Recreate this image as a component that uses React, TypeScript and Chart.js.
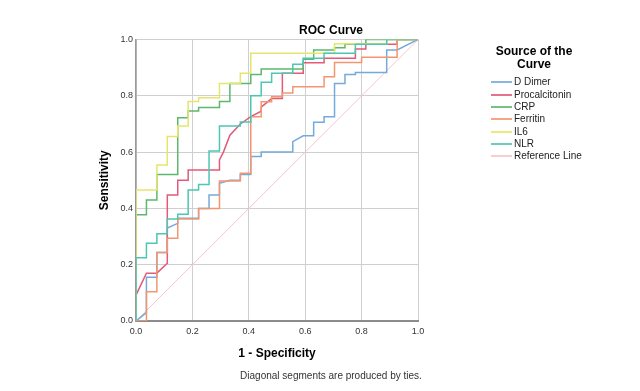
import React, { useEffect, useRef } from "react";
import { Chart, registerables } from "chart.js";

Chart.register(...registerables);

const FONT = "'Liberation Sans', Arial, Helvetica, sans-serif";

const chartTitle = "ROC Curve";
const xAxisTitle = "1 - Specificity";
const yAxisTitle = "Sensitivity";
const legendTitle = ["Source of the", "Curve"];
const footnote = "Diagonal segments are produced by ties.";

const seriesNames = ["D Dimer", "Procalcitonin", "CRP", "Ferritin", "IL6", "NLR"];
const seriesColors = ["#74aadb", "#e25a78", "#5cb86c", "#f39670", "#e5e56c", "#4dc6b2"];
const referenceName = "Reference Line";
const referenceColor = "#f5c6cd";

const tickValues = [0, 0.2, 0.4, 0.6, 0.8, 1.0];

// 1 - specificity (x) and sensitivity (y) for each curve
const dDimerX = [0, 0.037, 0.037, 0.074, 0.074, 0.111, 0.111, 0.148, 0.148, 0.222, 0.222, 0.259, 0.259, 0.296, 0.296, 0.333, 0.37, 0.37, 0.407, 0.407, 0.444, 0.444, 0.556, 0.556, 0.593, 0.63, 0.63, 0.667, 0.667, 0.704, 0.704, 0.741, 0.741, 0.778, 0.778, 0.889, 0.889, 0.926, 1];
const dDimerY = [0, 0.03, 0.155, 0.155, 0.243, 0.243, 0.33, 0.347, 0.365, 0.365, 0.4, 0.4, 0.448, 0.448, 0.489, 0.5, 0.5, 0.52, 0.52, 0.584, 0.584, 0.6, 0.6, 0.637, 0.658, 0.658, 0.706, 0.706, 0.726, 0.726, 0.844, 0.844, 0.876, 0.876, 0.883, 0.883, 0.963, 0.963, 1];

const procalcitoninX = [0, 0, 0.037, 0.074, 0.111, 0.111, 0.148, 0.148, 0.185, 0.185, 0.296, 0.296, 0.31, 0.333, 0.37, 0.407, 0.444, 0.444, 0.481, 0.519, 0.519, 0.593, 0.593, 0.667, 0.667, 0.778, 0.778, 0.815, 0.815, 0.926, 0.926, 1];
const procalcitoninY = [0, 0.092, 0.17, 0.17, 0.205, 0.448, 0.448, 0.5, 0.5, 0.536, 0.536, 0.572, 0.6, 0.66, 0.7, 0.726, 0.745, 0.76, 0.79, 0.79, 0.88, 0.88, 0.917, 0.917, 0.933, 0.933, 0.966, 0.966, 0.983, 0.983, 1, 1];

const crpX = [0, 0, 0.037, 0.037, 0.074, 0.074, 0.148, 0.148, 0.185, 0.185, 0.222, 0.222, 0.296, 0.296, 0.333, 0.333, 0.407, 0.407, 0.444, 0.444, 0.593, 0.593, 0.63, 0.63, 0.704, 0.704, 0.741, 0.741, 0.815, 0.815, 1];
const crpY = [0, 0.377, 0.377, 0.43, 0.43, 0.52, 0.52, 0.722, 0.722, 0.746, 0.746, 0.758, 0.758, 0.78, 0.78, 0.844, 0.844, 0.876, 0.876, 0.895, 0.895, 0.93, 0.93, 0.963, 0.963, 0.971, 0.971, 0.983, 0.983, 1, 1];

const ferritinX = [0, 0.037, 0.037, 0.074, 0.074, 0.111, 0.111, 0.148, 0.148, 0.222, 0.222, 0.296, 0.296, 0.37, 0.37, 0.407, 0.407, 0.444, 0.444, 0.481, 0.481, 0.519, 0.519, 0.556, 0.556, 0.667, 0.667, 0.704, 0.704, 0.8, 0.8, 0.926, 0.926, 1];
const ferritinY = [0, 0, 0.104, 0.104, 0.243, 0.243, 0.294, 0.294, 0.362, 0.362, 0.4, 0.4, 0.497, 0.497, 0.525, 0.525, 0.726, 0.726, 0.779, 0.779, 0.797, 0.797, 0.81, 0.81, 0.832, 0.832, 0.868, 0.868, 0.918, 0.918, 0.937, 0.937, 1, 1];

const il6X = [0, 0, 0.074, 0.074, 0.111, 0.111, 0.148, 0.148, 0.185, 0.185, 0.222, 0.222, 0.296, 0.296, 0.37, 0.37, 0.407, 0.407, 0.704, 0.704, 0.889, 0.889, 1];
const il6Y = [0, 0.465, 0.465, 0.554, 0.554, 0.655, 0.655, 0.693, 0.693, 0.78, 0.78, 0.793, 0.793, 0.844, 0.844, 0.88, 0.88, 0.951, 0.951, 0.985, 0.985, 1, 1];

const nlrX = [0, 0, 0.037, 0.037, 0.074, 0.074, 0.111, 0.111, 0.148, 0.148, 0.185, 0.185, 0.222, 0.222, 0.259, 0.259, 0.296, 0.296, 0.37, 0.37, 0.407, 0.407, 0.444, 0.444, 0.481, 0.481, 0.556, 0.556, 0.593, 0.593, 0.667, 0.667, 0.778, 0.778, 0.889, 0.889, 1];
const nlrY = [0, 0.225, 0.225, 0.276, 0.276, 0.31, 0.31, 0.362, 0.362, 0.379, 0.379, 0.465, 0.465, 0.485, 0.485, 0.604, 0.604, 0.693, 0.693, 0.707, 0.707, 0.8, 0.8, 0.848, 0.848, 0.88, 0.88, 0.912, 0.912, 0.933, 0.933, 0.951, 0.951, 0.983, 0.983, 1, 1];

const referenceX = [0, 1];
const referenceY = [0, 1];

const seriesX = [dDimerX, procalcitoninX, crpX, ferritinX, il6X, nlrX];
const seriesY = [dDimerY, procalcitoninY, crpY, ferritinY, il6Y, nlrY];

const toPoints = (xs: number[], ys: number[]) => xs.map((x, i) => ({ x, y: ys[i] }));

const centered = (cx: number, cy: number, size: number, bold: boolean): React.CSSProperties => ({
  position: "absolute",
  left: cx,
  top: cy,
  transform: "translate(-50%, -50%)",
  fontFamily: FONT,
  fontSize: size,
  fontWeight: bold ? "bold" : "normal",
  lineHeight: 1,
  whiteSpace: "nowrap",
  color: "#000",
});

export default function App() {
  const canvasRef = useRef<HTMLCanvasElement>(null);

  useEffect(() => {
    const canvas = canvasRef.current;
    if (!canvas) return;
    Chart.defaults.font.family = FONT;

    const datasets: any[] = seriesNames.map((name, i) => ({
      label: name,
      data: toPoints(seriesX[i], seriesY[i]),
      borderColor: seriesColors[i],
      backgroundColor: seriesColors[i],
      borderWidth: 1.5,
      showLine: true,
      pointRadius: 0,
      tension: 0,
      fill: false,
      order: -i,
    }));
    datasets.push({
      label: referenceName,
      data: toPoints(referenceX, referenceY),
      borderColor: referenceColor,
      backgroundColor: referenceColor,
      borderWidth: 1,
      showLine: true,
      pointRadius: 0,
      tension: 0,
      fill: false,
      order: 1,
    });

    const tickFmt = (v: any) => Number(v).toFixed(1);

    const chart = new Chart(canvas, {
      type: "scatter",
      data: { datasets },
      options: {
        animation: false,
        responsive: false,
        events: [],
        layout: { padding: { left: 0, right: 222, top: 39.5, bottom: 0 } },
        plugins: {
          legend: { display: false },
          tooltip: { enabled: false },
          title: { display: false },
        },
        scales: {
          x: {
            type: "linear",
            min: 0,
            max: 1,
            afterBuildTicks: (s: any) => {
              s.ticks = tickValues.map((v) => ({ value: v }));
            },
            afterFit: (s: any) => {
              s.height = 70;
            },
            grid: { color: "#cfcfcf", lineWidth: 1, drawTicks: false },
            border: { color: "#8c8c8c", width: 2 },
            ticks: {
              padding: 5,
              color: "#333",
              font: { size: 9, family: FONT },
              callback: tickFmt,
              maxRotation: 0,
            },
            title: {
              display: true,
              text: xAxisTitle,
              color: "#000",
              font: { size: 12, weight: "bold", family: FONT },
              padding: { top: 0, bottom: 29.8 },
            },
          },
          y: {
            type: "linear",
            min: 0,
            max: 1,
            afterBuildTicks: (s: any) => {
              s.ticks = tickValues.map((v) => ({ value: v }));
            },
            afterFit: (s: any) => {
              s.width = 136;
            },
            grid: { color: "#cfcfcf", lineWidth: 1, drawTicks: false },
            border: { color: "#9a9a9a", width: 1.5 },
            ticks: {
              padding: 3,
              color: "#333",
              font: { size: 9, family: FONT },
              callback: tickFmt,
            },
            title: {
              display: true,
              text: yAxisTitle,
              color: "#000",
              font: { size: 12, weight: "bold", family: FONT },
              padding: { top: 97.8, bottom: 0 },
            },
          },
        },
      } as any,
    });
    return () => chart.destroy();
  }, []);

  const legendNames = [...seriesNames, referenceName];
  const legendColors = [...seriesColors, referenceColor];

  return (
    <div style={{ position: "fixed", left: 0, top: 0, width: 640, height: 391, background: "#fff" }}>
      <canvas ref={canvasRef} width={640} height={391} style={{ position: "absolute", left: 0, top: 0, display: "block" }} />
      <div style={centered(331, 30, 12, true)}>{chartTitle}</div>
      <div style={centered(534, 50.5, 12, true)}>{legendTitle[0]}</div>
      <div style={centered(534, 63.5, 12, true)}>{legendTitle[1]}</div>
      {legendNames.map((name, i) => {
        const cy = 82.3 + 12.3 * i;
        return (
          <React.Fragment key={name}>
            <div
              style={{
                position: "absolute",
                left: 491,
                top: Math.round(cy) - 1,
                width: 21,
                height: 2,
                background: legendColors[i],
                opacity: 0.85,
              }}
            />
            <div
              style={{
                position: "absolute",
                left: 514,
                top: cy,
                transform: "translateY(-50%)",
                fontFamily: FONT,
                fontSize: 10,
                lineHeight: 1,
                whiteSpace: "nowrap",
                color: "#222",
              }}
            >
              {name}
            </div>
          </React.Fragment>
        );
      })}
      <div style={{ ...centered(331, 376, 10, false), color: "#333" }}>{footnote}</div>
    </div>
  );
}
